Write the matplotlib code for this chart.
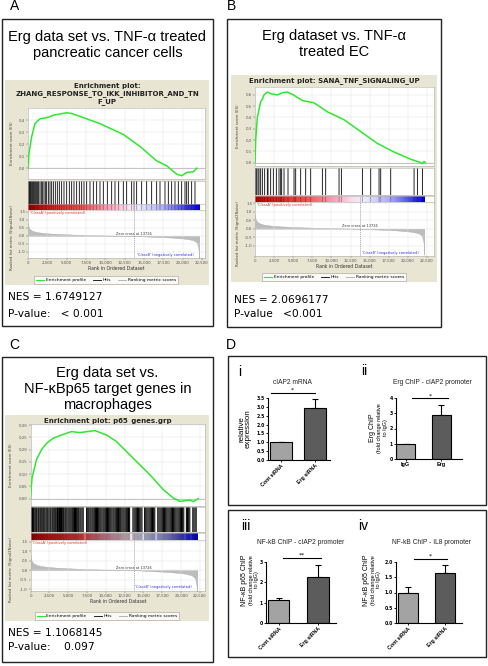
import numpy as np
import matplotlib.pyplot as plt
from matplotlib.patches import Rectangle
from matplotlib.lines import Line2D
from matplotlib.colors import LinearSegmentedColormap

# ---------------- data ----------------
# GSEA running enrichment score (rank, ES)
es_rank_a = [0, 120, 470, 900, 1550, 2420, 2900, 3270, 4100, 5000, 5600, 6300, 9310, 12330, 14490, 16650,
             17940, 19230, 19880, 20530, 21390, 21820]
es_a = [0.0, 0.12, 0.26, 0.37, 0.41, 0.42, 0.43, 0.44, 0.45, 0.46, 0.455, 0.44, 0.37, 0.28, 0.18, 0.06,
        0.02, -0.05, -0.063, -0.035, -0.03, 0.0]

es_rank_b = [0, 90, 300, 740, 960, 1180, 1620, 2100, 2930, 3600, 4240, 5020, 6200, 7720, 9470, 11650,
             13830, 16010, 18190, 20370, 21680, 21900, 22120, 22300]
es_b = [0.0, 0.2, 0.4, 0.54, 0.56, 0.60, 0.625, 0.61, 0.60, 0.62, 0.625, 0.60, 0.55, 0.53, 0.45, 0.38,
        0.275, 0.17, 0.094, 0.03, 0.0, -0.01, 0.01, 0.0]

es_rank_c = [0, 200, 800, 1460, 2130, 3000, 4120, 5450, 6550, 8550, 10100, 11430, 13640, 15850, 17620,
             18950, 19840, 21170, 21610, 22280]
es_c = [0.0, 0.084, 0.16, 0.2, 0.226, 0.247, 0.26, 0.274, 0.27, 0.278, 0.26, 0.233, 0.165, 0.098, 0.037,
        0.003, -0.011, -0.006, -0.012, 0.0]

# gene-set hits (rank positions)
hits_a = [86, 172, 259, 345, 474, 603, 690, 819, 948, 1121, 1250, 1379, 1552, 1724, 1897, 2069, 2241, 2414,
          2629, 2845, 3060, 3276, 3534, 3793, 4052, 4353, 4655, 5000, 5345, 5647, 5948, 6293, 6638, 6940,
          7241, 7586, 8017, 8448, 8879, 9310, 9741, 10259, 10819, 11250, 11724, 12328, 12759, 13405, 13707,
          14052, 14698, 15345, 15991, 16638, 17069, 17716, 18147, 18578, 19009, 19440, 19871, 20302, 20517,
          20733, 21164, 21595]
hits_b = [87, 218, 393, 524, 742, 960, 1265, 1614, 1702, 2051, 2400, 2792, 3141, 3360, 3490, 3796, 4319,
          5105, 5323, 5977, 6632, 7286, 8813, 9250, 10995, 11300, 14049, 15140, 16230, 16449, 17757, 20812,
          21248, 21902]
hits_c = [0, 60, 150, 260, 380, 470, 600, 720, 830, 990, 1100, 1250, 1370, 1500, 1640, 1760, 1900, 2050,
          2180, 2300, 2450, 2600, 2720, 2880, 3010, 3150, 3290, 3420, 3580, 3700, 3850, 3990, 4120, 4270,
          4400, 4560, 4690, 4830, 4980, 5120, 5260, 5400, 5550, 5690, 5840, 5980, 6120, 6270, 6400, 6560,
          6700, 6850, 7000, 7450, 7600, 7740, 7890, 8030, 8180, 8320, 8470, 8620, 8760, 8900, 9050, 9200,
          9340, 9490, 9640, 9780, 9930, 10080, 10220, 10370, 10520, 10660, 10810, 10960, 11100, 11250,
          11400, 11540, 11690, 11840, 11980, 12130, 12280, 12420, 12570, 12720, 12860, 13010, 13160, 13600,
          13750, 13900, 14050, 14200, 14350, 14500, 14650, 14800, 15150, 15300, 15450, 15600, 15750, 15900,
          16050, 16200, 16350, 16500, 16900, 17050, 17200, 17350, 17500, 17650, 17800, 17950, 18100, 18250,
          18400, 18550, 18700, 18850, 19000, 19150, 19300, 19450, 19600, 19750, 19900, 20050, 20200, 20350,
          20700, 20850, 21000, 21150, 21550, 21700, 21850, 22000]

# ranked list metric (same dataset in all three)
metric_rank = [0, 60, 200, 500, 1000, 2000, 3500, 6000, 9000, 12000, 13726, 16000, 18500, 20500, 21400,
               21800, 22000, 22100, 22150]
metric_val = [0.85, 0.6, 0.45, 0.33, 0.25, 0.18, 0.13, 0.08, 0.04, 0.015, 0.0, -0.05, -0.1, -0.18, -0.27,
              -0.4, -0.65, -1.0, -1.5]
zero_cross = 13726
list_end = 22150
rank_ticks = [0, 2500, 5000, 7500, 10000, 12500, 15000, 17500, 20000, 22500]

nes_a, p_a = 'NES = 1.6749127', 'P-value:   < 0.001'
nes_b, p_b = 'NES = 2.0696177', 'P-value   <0.001'
nes_c, p_c = 'NES = 1.1068145', 'P-value:    0.097'

# panel D bar charts
i_labels = ['Cont siRNA', 'Erg siRNA']
i_vals = [1.0, 2.95]
i_err = [0.0, 0.47]
ii_labels = ['IgG', 'Erg']
ii_vals = [1.0, 2.9]
ii_err = [0.0, 0.62]
iii_labels = ['Cont siRNA', 'Erg siRNA']
iii_vals = [1.13, 2.25]
iii_err = [0.12, 0.62]
iv_labels = ['Cont siRNA', 'Erg siRNA']
iv_vals = [0.98, 1.65]
iv_err = [0.2, 0.25]

# ---------------- figure ----------------
W, H = 488, 666
fig = plt.figure(figsize=(W / 100, H / 100), dpi=100)
BEIGE = '#e8e5d3'
GREEN = '#2ee82e'
RB = LinearSegmentedColormap.from_list('rb', [(0, '#d80000'), (0.3, '#f25050'), (0.45, '#f79ab0'),
                                              (0.58, '#fbe0ee'), (0.64, '#eeeeff'), (0.8, '#a8a8f4'),
                                              (1, '#0000d8')])


def pax(x0, y0, x1, y1):
    return fig.add_axes([x0 / W, 1 - y1 / H, (x1 - x0) / W, (y1 - y0) / H])


bg = pax(0, 0, W, H)
bg.set_xlim(0, W)
bg.set_ylim(H, 0)
bg.axis('off')

# outer boxes
for x0, y0, x1, y1 in [(2, 19, 213, 326), (227, 19, 441, 327), (2, 357, 213, 662),
                       (228, 356, 486, 505), (228, 510, 486, 657)]:
    bg.add_patch(Rectangle((x0, y0), x1 - x0, y1 - y0, fill=False, ec='#222222', lw=1.0))

for s, x, y in [('A', 15, 6), ('B', 232, 6), ('C', 14, 345), ('D', 231, 345)]:
    bg.text(x, y, s, fontsize=10, ha='center', va='center', family='Liberation Sans')

tkw = dict(fontsize=10.5, ha='center', va='center', family='Liberation Sans', linespacing=1.22)
bg.text(107.5, 45, 'Erg data set vs. TNF-α treated\npancreatic cancer cells', **tkw)
bg.text(334, 44, 'Erg dataset vs. TNF-α\ntreated EC', **tkw)
bg.text(107.5, 389, 'Erg data set vs.\nNF-κBp65 target genes in\nmacrophages', **tkw)


def style(ax):
    ax.tick_params(labelsize=2.8, length=1.2, width=0.3, pad=0.8, colors='#555555')
    for sp in ax.spines.values():
        sp.set_color('#b0b0b0')
        sp.set_linewidth(0.4)


def gsea(L, es_rank, es_val, hits, es_ticks, es_fmt, es_lim, met_lim, title, nes, pval, hit_lw):
    bx = L['box']
    x0, x1, xmax = L['x0'], L['x1'], L['xmax']
    bg.add_patch(Rectangle((bx[0], bx[1]), bx[2] - bx[0], bx[3] - bx[1], color=BEIGE, lw=0))
    bg.text(L['title'][0], L['title'][1], title, ha='center', va='center', fontsize=5,
            fontweight='bold', family='DejaVu Sans', linespacing=1.2, color='#222222')

    ax = pax(x0, L['es'][0], x1, L['es'][1])
    ax.plot(es_rank, es_val, color=GREEN, lw=1.1, zorder=3)
    ax.axhline(0, color='#9a9a9a', lw=0.4)
    ax.set_xlim(0, xmax)
    ax.set_ylim(*es_lim)
    ax.set_xticks(rank_ticks)
    ax.set_xticklabels([])
    ax.set_yticks(es_ticks)
    ax.set_yticklabels([es_fmt % t for t in es_ticks])
    style(ax)
    ax.tick_params(axis='x', length=0)
    ax.grid(color='#e4e4e4', lw=0.35)

    hx = pax(x0, L['hits'][0], x1, L['hits'][1])
    hx.vlines(hits, 0, 1, color='black', lw=hit_lw, snap=False)
    hx.set_xlim(0, xmax)
    hx.set_ylim(0, 1)
    hx.set_xticks([])
    hx.set_yticks([])
    style(hx)

    cx = pax(x0, L['cb'][0], x1, L['cb'][1])
    cx.imshow(np.linspace(0, 1, 256)[None, :], aspect='auto', cmap=RB, extent=(0, list_end, 0, 1))
    cx.vlines(hits, 0, 1, color='black', lw=hit_lw, alpha=0.35, snap=False)
    cx.axvline(zero_cross, color='#777777', lw=0.4, ls=(0, (2, 1.5)))
    cx.set_xlim(0, xmax)
    cx.set_ylim(0, 1)
    cx.set_xticks([])
    cx.set_yticks([])
    style(cx)

    mx = pax(x0, L['met'][0], x1, L['met'][1])
    mx.fill_between(metric_rank, 0, metric_val, color='#bdbdbd', lw=0.3, edgecolor='#aaaaaa')
    mx.axvline(zero_cross, color='#777777', lw=0.4, ls=(0, (2, 1.5)))
    mx.set_xlim(0, xmax)
    mx.set_ylim(*met_lim)
    mx.set_xticks(rank_ticks)
    mx.set_xticklabels([f'{t:,}' for t in rank_ticks])
    mt = [1.5, 1.0, 0.5, 0.0, -0.5, -1.0]
    mx.set_yticks(mt)
    mx.set_yticklabels(['%.1f' % t for t in mt])
    style(mx)
    mx.grid(color='#e4e4e4', lw=0.35)
    mx.set_xlabel('Rank in Ordered Dataset', fontsize=3.3, labelpad=1, color='#333333')
    mx.text(zero_cross, 0.02, 'Zero cross at 13726', fontsize=2.5, ha='center', va='bottom', color='#333333')
    mx.text(250, met_lim[1] - 0.05, "'ClassA' (positively correlated)", fontsize=2.6, color='#e03030',
            va='top')
    mx.text(21400, met_lim[0] + 0.08, "'ClassB' (negatively correlated)", fontsize=2.6, color='#3030e0',
            va='bottom', ha='right')

    handles = [Line2D([], [], color=GREEN, lw=0.8), Line2D([], [], color='black', lw=0.6),
               Line2D([], [], color='#aaaaaa', lw=0.6)]
    leg = mx.legend(handles, ['Enrichment profile', 'Hits', 'Ranking metric scores'], loc='center',
                    bbox_to_anchor=(L['legend'][0] / W, 1 - L['legend'][1] / H),
                    bbox_transform=fig.transFigure, ncol=3, fontsize=3.2, frameon=True, fancybox=False,
                    edgecolor='#888888', handlelength=1.8, handletextpad=0.4, columnspacing=1.6,
                    borderpad=0.4)
    leg.get_frame().set_linewidth(0.4)

    yl = L['ylab_x']
    bg.text(yl, (L['es'][0] + L['es'][1]) / 2, 'Enrichment score (ES)', rotation=90, fontsize=2.8,
            ha='center', va='center', color='#444444')
    bg.text(yl, (L['met'][0] + L['met'][1]) / 2 + 4, 'Ranked list metric (Signal2Noise)', rotation=90,
            fontsize=2.8, ha='center', va='center', color='#444444')

    bg.text(L['nes'][0], L['nes'][1], nes, fontsize=7.7, va='center', family='DejaVu Sans')
    bg.text(L['nes'][0], L['nes'][2], pval, fontsize=7.7, va='center', family='DejaVu Sans')


lay_a = dict(box=(5, 80, 209, 285), x0=28, x1=205, xmax=22890, es=(108, 179), hits=(181, 204),
             cb=(204, 210), met=(210, 258), ylab_x=12, title=(107, 94), legend=(106, 280),
             nes=(8, 297, 314))
lay_b = dict(box=(231, 75, 437, 282), x0=255, x1=434, xmax=23420, es=(87, 166), hits=(168, 195),
             cb=(196, 202), met=(202, 256), ylab_x=238, title=(334, 81), legend=(334, 277),
             nes=(234, 300, 314))
lay_c = dict(box=(5, 415, 209, 621), x0=30.5, x1=205, xmax=23170, es=(424, 506), hits=(507, 532),
             cb=(533, 540), met=(540, 591), ylab_x=11, title=(108, 421), legend=(107, 616),
             nes=(8, 633, 647))

gsea(lay_a, es_rank_a, es_a, hits_a, [0.0, 0.1, 0.2, 0.3, 0.4], '%.1f', (-0.09, 0.5), (-1.38, 1.62),
     'Enrichment plot:\nZHANG_RESPONSE_TO_IKK_INHIBITOR_AND_TN\nF_UP', nes_a, p_a, 0.6)
gsea(lay_b, es_rank_b, es_b, hits_b, [0.0, 0.1, 0.2, 0.3, 0.4, 0.5, 0.6], '%.1f', (-0.03, 0.67),
     (-1.6, 1.56), 'Enrichment plot: SANA_TNF_SIGNALING_UP', nes_b, p_b, 0.6)
gsea(lay_c, es_rank_c, es_c, hits_c, [0.0, 0.05, 0.10, 0.15, 0.20, 0.25, 0.30], '%.2f', (-0.03, 0.305),
     (-1.1, 1.59), 'Enrichment plot: p65_genes.grp', nes_c, p_c, 0.75)


# ---------------- panel D ----------------
def barplot(rect, xlim, ylim, yticks, yfmt, labels, vals, errs, width, rotate, sig, title, title_xy):
    ax = pax(*rect)
    pos = [0, 1]
    ax.bar(pos, vals, width=width, color=['#a3a3a3', '#5c5c5c'], edgecolor='black', lw=0.8, zorder=2)
    ax.errorbar(pos, vals, yerr=[[0, 0], errs], fmt='none', ecolor='black', elinewidth=0.8, capsize=2.2,
                capthick=0.8, zorder=1)
    ax.set_xlim(*xlim)
    ax.set_ylim(*ylim)
    ax.set_yticks(yticks)
    ax.set_yticklabels([yfmt % t for t in yticks])
    ax.set_xticks(pos)
    if rotate:
        ax.set_xticklabels(labels, rotation=45, ha='right', rotation_mode='anchor', fontsize=3.8,
                           fontweight='bold', family='Liberation Sans')
    else:
        ax.set_xticklabels(labels, fontsize=4, fontweight='bold', family='Liberation Sans')
    ax.tick_params(axis='y', labelsize=3.3, length=1.5, width=0.6, pad=0.8)
    ax.tick_params(axis='x', length=1.5, width=0.6, pad=1)
    for lab in ax.get_yticklabels():
        lab.set_fontweight('bold')
    for sp in ['top', 'right']:
        ax.spines[sp].set_visible(False)
    for sp in ['left', 'bottom']:
        ax.spines[sp].set_linewidth(0.8)
    sx0, sx1, sy, stxt = sig
    ax.plot([sx0, sx1], [sy, sy], color='black', lw=0.8, clip_on=False)
    ax.text((sx0 + sx1) / 2, sy, stxt, ha='center', va='bottom', fontsize=4.5, clip_on=False)
    bg.text(title_xy[0], title_xy[1], title, ha='center', va='center', fontsize=4.8,
            family='Liberation Sans', color='#222222')
    return ax


barplot((268, 398, 330, 460), (-0.40, 1.45), (0, 3.5), [0, 0.5, 1.0, 1.5, 2.0, 2.5, 3.0, 3.5], '%.1f',
        i_labels, i_vals, i_err, 0.66, True, (-0.32, 1.0, 3.78, '*'), 'cIAP2 mRNA', (292, 382))
barplot((396, 398, 462, 459), (-0.27, 1.58), (0, 4), [0, 1, 2, 3, 4], '%d',
        ii_labels, ii_vals, ii_err, 0.52, False, (0.19, 1.19, 3.98, '*'), 'Erg ChIP - cIAP2 promoter',
        (432, 382))
barplot((266, 562, 336, 623), (-0.33, 1.46), (0, 3), [0, 1, 2, 3], '%d',
        iii_labels, iii_vals, iii_err, 0.54, True, (0.1, 1.08, 3.2, '**'), 'NF-kB ChIP - cIAP2 promoter',
        (301, 542))
barplot((396, 562, 462, 623), (-0.32, 1.46), (0, 2.0), [0, 0.5, 1.0, 1.5, 2.0], '%.1f',
        iv_labels, iv_vals, iv_err, 0.54, True, (0.16, 1.05, 2.1, '*'), 'NF-kB ChIP - IL8 promoter',
        (431, 542))

rn = dict(family='Liberation Sans', ha='center', va='center')
bg.text(240, 372, 'i', fontsize=10, **rn)
bg.text(364, 371, 'ii', fontsize=10, **rn)
bg.text(246, 526, 'iii', fontsize=10, **rn)
bg.text(363, 526, 'iv', fontsize=10, **rn)

bg.text(245, 429, 'relative\nexpression', rotation=90, fontsize=5.8, linespacing=1.0, **rn)
bg.text(373, 428, 'Erg ChIP', rotation=90, fontsize=5, **rn)
bg.text(382.5, 428, '(fold change relative\nto IgG)', rotation=90, fontsize=4, linespacing=1.15, **rn)
bg.text(244, 580, 'NF-κB p65 ChIP', rotation=90, fontsize=5, **rn)
bg.text(254, 580, '(fold change relative\nto IgG)', rotation=90, fontsize=4, linespacing=1.15, **rn)
bg.text(366, 580, 'NF-κB p65 ChIP', rotation=90, fontsize=5, **rn)
bg.text(376, 580, '(fold change relative\nto IgG)', rotation=90, fontsize=4, linespacing=1.15, **rn)

fig.savefig('out.png', dpi=100)
